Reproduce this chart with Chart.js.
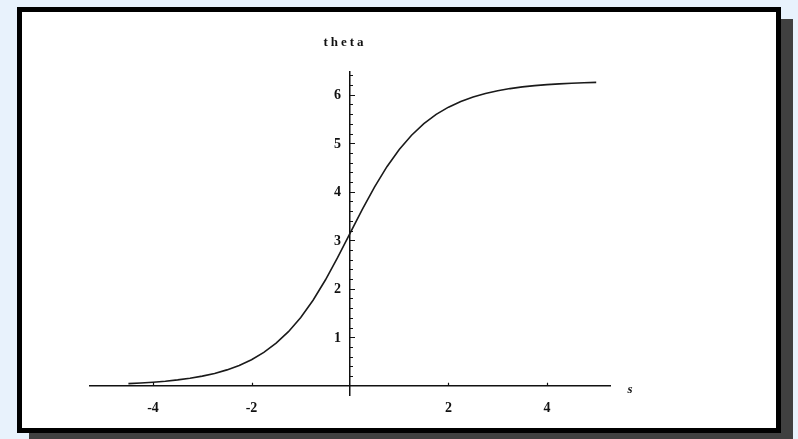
<!DOCTYPE html>
<html>
<head>
<meta charset="utf-8">
<script src="https://cdn.jsdelivr.net/npm/chart.js@4/dist/chart.umd.min.js"></script>
<style>
  html, body { margin: 0; padding: 0; }
  body { width: 798px; height: 439px; background: #e8f2fc; position: relative; overflow: hidden; }
  #caixa {
    position: absolute; left: 17px; top: 7px; width: 764px; height: 426px;
    box-sizing: border-box; border: 5px solid #000; background: #fff;
    box-shadow: 12px 12px 0 #404040;
  }
  #area { position: absolute; left: 0; top: 0; width: 754px; height: 416px; }
</style>
</head>
<body>
<div id="caixa"><div id="area"><canvas id="grafico"></canvas></div></div>
<script>
// valores (s, theta)
const valoresS = [-4.5, -4.25, -4, -3.75, -3.5, -3.25, -3, -2.75, -2.5, -2.25, -2, -1.75, -1.5, -1.25, -1, -0.75, -0.5, -0.25,
  0, 0.25, 0.5, 0.75, 1, 1.25, 1.5, 1.75, 2, 2.25, 2.5, 2.75, 3, 3.25, 3.5, 3.75, 4, 4.25, 4.5, 4.75, 5];
const valoresTheta = [0.044, 0.057, 0.073, 0.094, 0.121, 0.155, 0.199, 0.255, 0.328, 0.42, 0.538, 0.688, 0.878, 1.116, 1.41, 1.765, 2.181, 2.647,
  3.142, 3.636, 4.102, 4.518, 4.873, 5.167, 5.405, 5.595, 5.745, 5.863, 5.956, 6.028, 6.084, 6.128, 6.163, 6.189, 6.21, 6.226, 6.239, 6.249, 6.256];

// marcas dos eixos
const ticksX = [-4, -2, 2, 4];
const ticksY = [1, 2, 3, 4, 5, 6];
const ticksYMenores = [0.2, 0.4, 0.6, 0.8, 1.2, 1.4, 1.6, 1.8, 2.2, 2.4, 2.6, 2.8, 3.2, 3.4, 3.6, 3.8,
  4.2, 4.4, 4.6, 4.8, 5.2, 5.4, 5.6, 5.8, 6.2, 6.4];

const familiaSerif = '"Liberation Serif", "DejaVu Serif", serif';
const fonteTicks = { family: familiaSerif, size: 14, weight: 'bold' };

// desenha as marcas para dentro, os números do eixo y e os nomes dos eixos
const marcasEixos = {
  id: 'marcasEixos',
  afterDraw(chart) {
    const ctx = chart.ctx;
    const x = chart.scales.x, y = chart.scales.y;
    const x0 = x.getPixelForValue(0), y0 = y.getPixelForValue(0);
    ctx.save();
    ctx.strokeStyle = '#111';
    ctx.lineWidth = 1.2;
    ctx.beginPath();
    ticksY.forEach(v => { const p = Math.round(y.getPixelForValue(v)) + 0.5; ctx.moveTo(x0, p); ctx.lineTo(x0 + 5, p); });
    ticksYMenores.forEach(v => { const p = Math.round(y.getPixelForValue(v)) + 0.5; ctx.moveTo(x0, p); ctx.lineTo(x0 + 3, p); });
    ticksX.forEach(v => { const p = Math.round(x.getPixelForValue(v)) + 0.5; ctx.moveTo(p, y0); ctx.lineTo(p, y0 - 3); });
    ctx.stroke();

    ctx.fillStyle = '#111';
    ctx.font = 'bold 14px ' + familiaSerif;
    ctx.textAlign = 'right';
    ctx.textBaseline = 'middle';
    ticksY.forEach(v => ctx.fillText(String(v), x0 - 9, y.getPixelForValue(v) + 1));

    ctx.font = 'bold 13px ' + familiaSerif;
    ctx.letterSpacing = '3px';
    ctx.textAlign = 'center';
    ctx.fillText('theta', x0 - 5, y.top - 29);
    ctx.letterSpacing = '0px';
    ctx.font = 'italic bold 13px ' + familiaSerif;
    ctx.fillText('s', x.right + 20, y0 + 4);
    ctx.restore();
  }
};

function criarGrafico() {
  const ctx = document.getElementById('grafico').getContext('2d');
  new Chart(ctx, {
    type: 'line',
    data: {
      datasets: [{
        data: valoresS.map((s, i) => ({ x: s, y: valoresTheta[i] })),
        borderColor: '#1a1a1a',
        borderWidth: 1.6,
        pointRadius: 0,
        tension: 0,
        fill: false
      }]
    },
    options: {
      responsive: true,
      maintainAspectRatio: false,
      animation: false,
      layout: { padding: { left: 68, right: 166, top: 60, bottom: 33 } },
      scales: {
        x: {
          type: 'linear',
          position: { y: 0 },
          min: -5.28,
          max: 5.28,
          afterBuildTicks: axis => { axis.ticks = ticksX.map(v => ({ value: v })); },
          grid: { display: false, drawTicks: false },
          border: { display: true, color: '#111', width: 1.5 },
          ticks: { color: '#111', font: fonteTicks, padding: 14, maxRotation: 0, autoSkip: false }
        },
        y: {
          type: 'linear',
          position: { x: 0 },
          min: -0.19,
          max: 6.47,
          afterBuildTicks: axis => { axis.ticks = ticksY.map(v => ({ value: v })); },
          grid: { display: false, drawTicks: false },
          border: { display: true, color: '#111', width: 1.5 },
          ticks: { display: false }
        }
      },
      plugins: {
        legend: { display: false },
        tooltip: { enabled: false }
      }
    },
    plugins: [marcasEixos]
  });
}

document.addEventListener('DOMContentLoaded', () => {
  Promise.all([
    document.fonts.load('bold 14px "Liberation Serif"'),
    document.fonts.load('italic bold 13px "Liberation Serif"')
  ]).catch(() => {}).then(criarGrafico);
});
</script>
</body>
</html>
